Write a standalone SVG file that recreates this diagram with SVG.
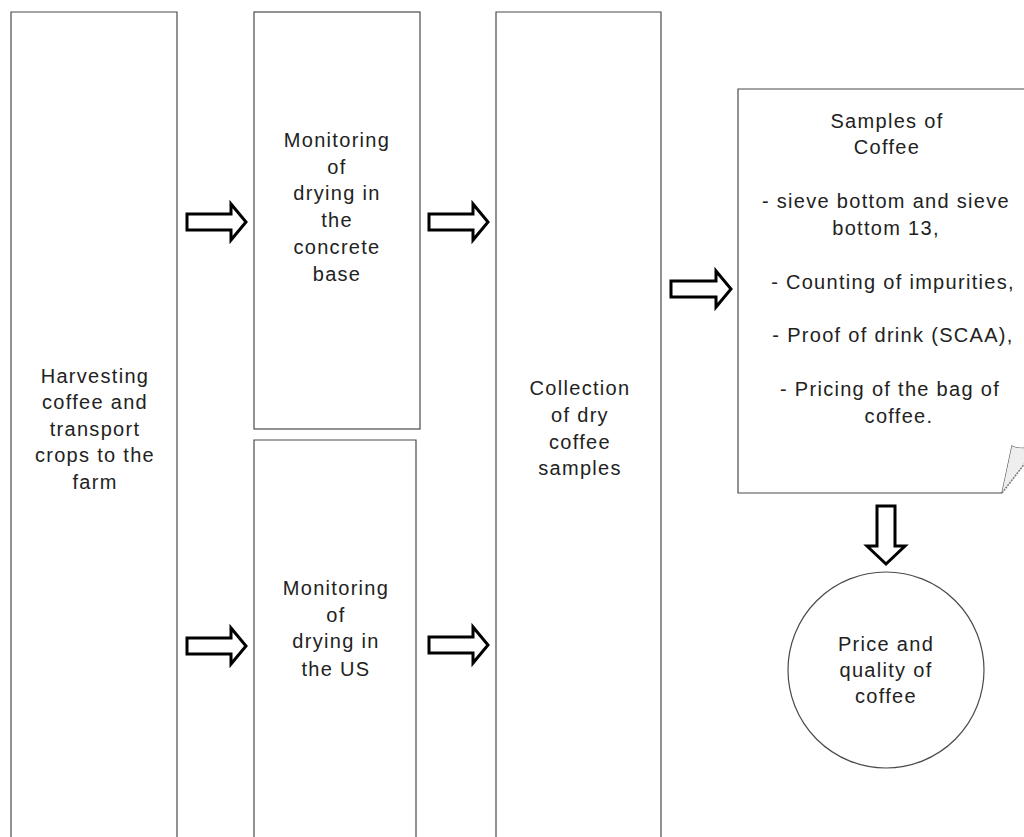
<svg xmlns="http://www.w3.org/2000/svg" width="1024" height="837" viewBox="0 0 1024 837">
<style>
.box{fill:#fff;stroke:#4a4a4a;stroke-width:1.2}
.arr{fill:#fff;stroke:#000;stroke-width:3;stroke-linejoin:miter}
text{font-family:"Liberation Sans",Arial,sans-serif;font-size:20px;fill:#222;text-anchor:middle;letter-spacing:1.3px}
</style>
<rect width="1024" height="837" fill="#fff"/>
<g id="n1"><path class="box" d="M11,840 V12 H177 V840"/>
<text x="95" y="383">Harvesting</text><text x="95" y="409">coffee and</text><text x="95" y="436">transport</text><text x="95" y="462">crops to the</text><text x="95" y="489">farm</text></g>
<g id="n2"><rect class="box" x="254" y="12" width="166" height="417"/>
<text x="337" y="147">Monitoring</text><text x="337" y="174">of</text><text x="337" y="200">drying in</text><text x="337" y="227">the</text><text x="337" y="254">concrete</text><text x="337" y="281">base</text></g>
<g id="n3"><path class="box" d="M254,840 V440 H416 V840"/>
<text x="336" y="595">Monitoring</text><text x="336" y="622">of</text><text x="336" y="648">drying in</text><text x="336" y="676">the US</text></g>
<g id="n4"><path class="box" d="M496,840 V12 H661 V840"/>
<text x="580" y="395">Collection</text><text x="580" y="422">of dry</text><text x="580" y="449">coffee</text><text x="580" y="475">samples</text></g>
<g id="n5"><path class="box" d="M1026,89 H738 V493 H1002"/>
<path d="M1002,493 L1012,446 Q1018,449 1026,448" fill="none" stroke="#555" stroke-width="1.2"/>
<path d="M1002,493 L1026,462 V448 Q1018,449 1012,446 Z" fill="#eee" stroke="none"/>
<path d="M1002,493 L1026,462" fill="none" stroke="#777" stroke-width="1.5" stroke-dasharray="2 1"/>
<text x="887" y="128">Samples of</text><text x="887" y="154">Coffee</text>
<text x="886" y="208">- sieve bottom and sieve</text><text x="886" y="235">bottom 13,</text>
<text x="893" y="289">- Counting of impurities,</text>
<text x="893" y="342">- Proof of drink (SCAA),</text>
<text x="890" y="396">- Pricing of the bag of</text><text x="899" y="423">coffee.</text></g>
<g id="n6"><circle class="box" cx="886" cy="670" r="98"/>
<text x="886" y="651">Price and</text><text x="886" y="677">quality of</text><text x="886" y="703">coffee</text></g>
<g id="connectors">
<polygon class="arr" points="187,214 231,214 231,204 246,222 231,240 231,230 187,230"/>
<polygon class="arr" points="429,214 473,214 473,204 488,222 473,240 473,230 429,230"/>
<polygon class="arr" points="187,638 231,638 231,628 246,646 231,664 231,654 187,654"/>
<polygon class="arr" points="429,637 473,637 473,627 488,645 473,663 473,653 429,653"/>
<polygon class="arr" points="671,281 716,281 716,271 731,289 716,307 716,297 671,297"/>
<polygon class="arr" points="877,506 895,506 895,546 905,546 886,564 867,546 877,546"/>
</g>
</svg>
